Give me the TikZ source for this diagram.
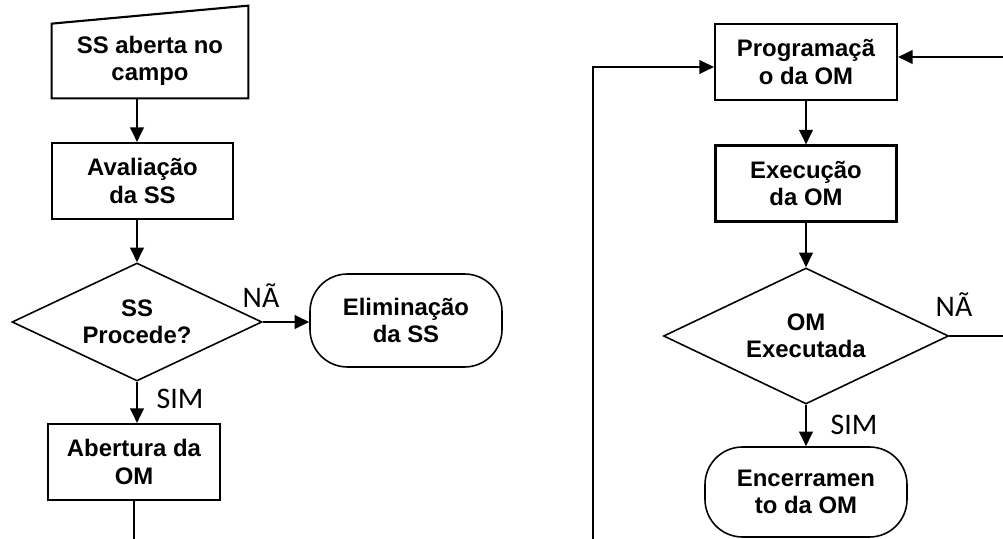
\documentclass[tikz,border=0pt]{standalone}
\usepackage{fontspec}
\setmainfont{Liberation Sans}
\newfontfamily\lblfont{Carlito}
\usepackage{tikz}
\usetikzlibrary{shapes.geometric, arrows.meta}

\begin{document}
\begin{tikzpicture}[>={Triangle[length=0.29cm,width=0.27cm]},
  txt/.style={align=center, font=\fontsize{13.6}{15.6}\selectfont\bfseries, inner sep=0pt},
  caixa/.style={txt, draw, line width=1.2pt, minimum width=#1, minimum height=1.52cm},
  decisao/.style={txt, draw, line width=0.9pt, shape=diamond, aspect=2.1},
  terminal/.style={txt, draw, line width=0.9pt, rounded corners=0.75cm},
  lbl/.style={font=\lblfont\fontsize{17}{19}\selectfont},
  fluxo/.style={line width=1.2pt}]
\useasboundingbox (0,0) rectangle (20.06,-10.78);
\begin{scope}
% entrada manual
\node[txt, minimum width=3.92cm, minimum height=1.48cm] (ss) at (3.0,-1.22) {SS aberta no\\campo};
\draw[line width=1.2pt] (ss.south west) -- (ss.north west) -- ([yshift=0.36cm]ss.north east) -- (ss.south east) -- cycle;
\node[caixa=3.62cm] (aval) at (2.85,-3.62) {Avalia\c{c}\~ao\\da SS};
\node[decisao, minimum width=5cm, minimum height=2.36cm] (proc) at (2.74,-6.44) {SS\\Procede?};
\node[terminal, minimum width=3.84cm, minimum height=1.86cm] (elim) at (8.12,-6.41) {Elimina\c{c}\~ao\\da SS};
\node[caixa=3.44cm] (abert) at (2.68,-9.24) {Abertura da\\OM};
\coordinate (fimA) at (2.68,-10.78);
\draw[fluxo,->] (ss.south -| proc.north) -- (aval.north -| proc.north);
\draw[fluxo,->] (aval.south -| proc.north) -- (proc.north);
\draw[fluxo,->] (proc.east) -- (proc.east -| elim.west);
\draw[fluxo,->] (proc.south) -- (proc.south |- abert.north);
\draw[fluxo] (abert.south) -- (fimA);
\node[lbl] at (5.22,-5.92) {N\~A};
\node[lbl] at (3.6,-7.97) {SIM};
\end{scope}
\begin{scope}
\node[caixa=3.64cm] (prog) at (16.12,-1.24) {Programa\c{c}\~a\\o da OM};
\node[caixa=3.62cm] (exec) at (16.12,-3.67) {Execu\c{c}\~ao\\da OM};
\node[decisao, minimum width=5.7cm, minimum height=2.72cm] (exe) at (16.12,-6.72) {OM\\Executada};
\node[terminal, minimum width=4.04cm, minimum height=1.8cm] (enc) at (16.12,-9.84) {Encerramen\\to da OM};
\coordinate (retA) at (11.86,-10.78);
\coordinate (retB) at (11.86,-1.34);
\coordinate (retC) at (20.06,-1.14);
\coordinate (naoD) at (20.06,-6.72);
\draw[fluxo,->] (prog) -- (exec);
\draw[fluxo,->] (exec) -- (exe);
\draw[fluxo,->] (exe) -- (enc);
\draw[fluxo,->] (retA) -- (retB) -- (retB -| prog.west);
\draw[fluxo,->] (retC) -- (retC -| prog.east);
\draw[fluxo] (exe.east) -- (naoD);
\node[lbl] at (19.08,-6.1) {N\~A};
\node[lbl] at (17.08,-8.5) {SIM};
\end{scope}
\end{tikzpicture}
\end{document}
